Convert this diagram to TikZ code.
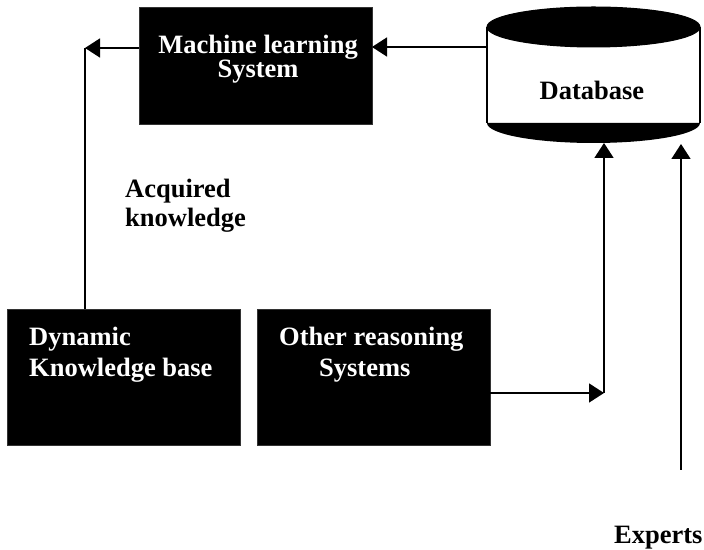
\documentclass[tikz,border=0pt]{standalone}
\usepackage{fontspec}
\setmainfont{Liberation Serif}
\usetikzlibrary{arrows.meta}
\begin{document}
\begin{tikzpicture}[x=1bp,y=1bp,
  blackbox/.style={draw=black!80,line width=0.6bp,fill=black,minimum width=233bp,inner sep=0pt,outer sep=0pt},
  lbl/.style={inner sep=0pt,font=\fontsize{26.5bp}{30bp}\selectfont\bfseries},
  wlbl/.style={lbl,text=white},
  conn/.style={line width=1.6bp},
  arr/.style={conn,-{Triangle[length=15bp,width=19bp]}}]
\useasboundingbox (0,0) rectangle (704,550);
% boxes
\node[blackbox,minimum height=117bp] (ml) at (255.5,484.5) {};
\node[blackbox,minimum height=136bp] (dyn) at (123.5,173) {};
\node[blackbox,minimum height=136bp] (oth) at (373.5,173) {};
% database cylinder
\fill[white] (487,523) rectangle (700,427);
\draw[line width=1.6bp] (487,523) -- (487,427) (700,523) -- (700,427);
\fill[black] (487,427) arc[start angle=180,end angle=360,x radius=106.5,y radius=20] -- cycle;
\draw[line width=1bp,fill=black] (593.5,523) ellipse[x radius=106.5,y radius=20];
\node[inner sep=0pt] (db) at (593.5,475) {};
% texts
\node[wlbl,anchor=base] (mlt1) at (258,496) {Machine learning};
\node[wlbl,anchor=base] (mlt2) at (258,472) {System};
\node[lbl,anchor=base] (dbt) at (592,450) {Database};
\node[lbl,anchor=base west] (aq1) at (125,352) {Acquired};
\node[lbl,anchor=base west] (aq2) at (125,323) {knowledge};
\node[wlbl,anchor=base west] (dyt1) at (29,204) {Dynamic};
\node[wlbl,anchor=base west] (dyt2) at (29,173) {Knowledge base};
\node[wlbl,anchor=base west] (ot1) at (279,204) {Other reasoning};
\node[wlbl,anchor=base west] (ot2) at (319,173) {Systems};
\node[lbl,anchor=base west] (exp) at (614,6) {Experts};
% connector points
\coordinate (dbl) at (487,503);
\coordinate (mlr) at (ml.east |- dbl);
\coordinate (mll) at (ml.west |- 0,502);
\coordinate (c1) at (85,502);
\coordinate (dyntop) at (dyn.north -| c1);
\coordinate (othr) at (oth.east |- 0,157);
\coordinate (c2) at (604,157);
\coordinate (dbb1) at (604,407);
\coordinate (expt) at (681,80);
\coordinate (dbb2) at (681,406);
% connectors
\draw[arr] (dbl) -- (mlr);
\draw[arr] (mll) -- (c1);
\draw[conn] (c1) -- (dyntop);
\draw[arr] (othr) -- (c2);
\draw[arr] (c2) -- (dbb1);
\draw[arr] (expt) -- (dbb2);
\end{tikzpicture}
\end{document}
